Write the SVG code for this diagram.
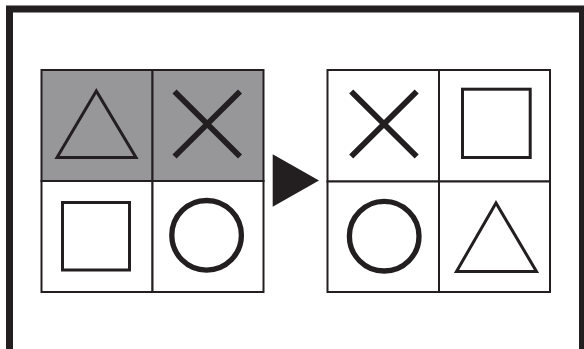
<svg xmlns="http://www.w3.org/2000/svg" width="584" height="349" viewBox="0 0 584 349">
<style>
.frame{fill:none;stroke:#231f20;stroke-width:7}
.cell{stroke:#231f20;stroke-width:2}
.grey{fill:#97979a}
.white{fill:#ffffff}
.shape{fill:none;stroke:#231f20;stroke-width:3}
.cross{fill:none;stroke:#231f20;stroke-width:5.8}
.ring{fill:none;stroke:#231f20;stroke-width:5.3}
</style>
<rect width="584" height="349" fill="#ffffff"/>
<path class="frame" d="M9.5,349 V9 H582.5 V349"/>
<g id="left-grid">
<rect class="cell grey" x="41.5" y="70" width="111" height="111"/>
<rect class="cell grey" x="152.5" y="70" width="111" height="111"/>
<rect class="cell white" x="41.5" y="181" width="111" height="111"/>
<rect class="cell white" x="152.5" y="181" width="111" height="111"/>
</g>
<g id="left-triangle"><polygon class="shape" points="96.3,91 57,157.5 136,157.5"/></g>
<g id="left-cross"><path class="cross" d="M174.5,91.5 L240,156.5 M240,91.5 L174.5,156.5"/></g>
<g id="left-square"><rect class="shape" x="62.5" y="202.5" width="67" height="67.5"/></g>
<g id="left-circle"><circle class="ring" cx="206.6" cy="235.3" r="34.8"/></g>
<g id="connectors">
<polygon points="272.7,154.3 272.7,206.7 319,180.5" fill="#231f20"/>
</g>
<g id="right-grid">
<rect class="cell white" x="327.5" y="70" width="111.5" height="111.5"/>
<rect class="cell white" x="439" y="70" width="111" height="111.5"/>
<rect class="cell white" x="327.5" y="181.5" width="111.5" height="110.5"/>
<rect class="cell white" x="439" y="181.5" width="111" height="110.5"/>
</g>
<g id="right-cross"><path class="cross" d="M351.2,91.5 L416.7,156.5 M416.7,91.5 L351.2,156.5"/></g>
<g id="right-square"><rect class="shape" x="462.5" y="89.2" width="67.7" height="68.3"/></g>
<g id="right-circle"><circle class="ring" cx="384.2" cy="236.2" r="34.8"/></g>
<g id="right-triangle"><polygon class="shape" points="496,203 456.5,271.5 536.5,271.5"/></g>
</svg>
